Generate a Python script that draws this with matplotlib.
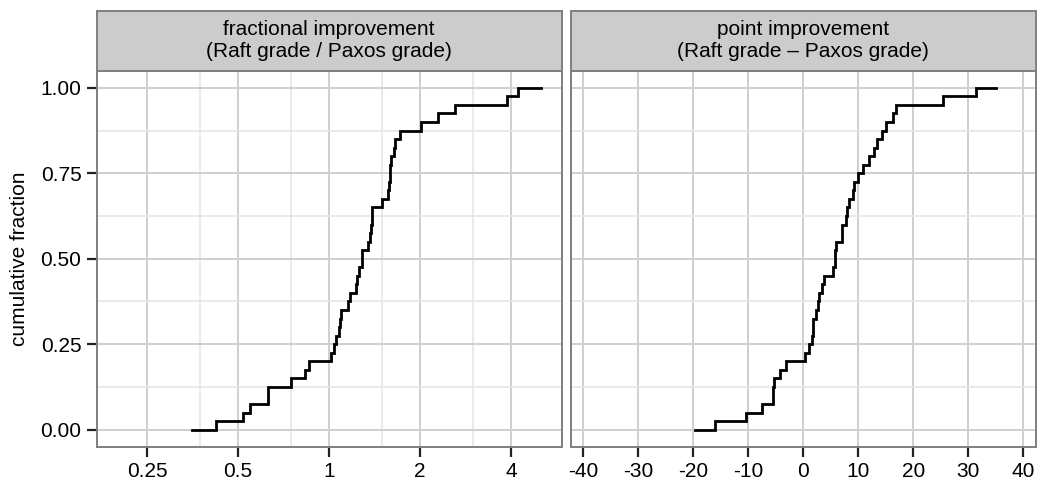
import numpy as np
import matplotlib
matplotlib.use("Agg")
import matplotlib.pyplot as plt
from matplotlib.ticker import FixedLocator, NullFormatter

plt.rcParams['font.family'] = ['Liberation Sans', 'DejaVu Sans']

# x value at which the ECDF reaches each 1/40 level (level 0 .. 40), plus where the line ends
frac_steps = [0.353, 0.423, 0.520, 0.548, 0.627, 0.627, 0.749, 0.835, 0.859, 1.019,
              1.035, 1.055, 1.075, 1.087, 1.096, 1.158, 1.173, 1.228, 1.240, 1.252,
              1.283, 1.283, 1.346, 1.367, 1.377, 1.388, 1.391, 1.494, 1.564, 1.579,
              1.591, 1.597, 1.603, 1.645, 1.653, 1.717, 2.011, 2.299, 2.617, 3.871,
              4.210]
frac_end = 5.03

point_steps = [-19.7, -16.05, -10.47, -7.56, -5.51, -5.51, -5.27, -4.24, -3.15, 0.35,
               1.0, 1.5, 1.82, 1.82, 2.31, 2.58, 2.91, 3.35, 3.67, 5.35,
               5.76, 5.76, 5.89, 6.95, 6.98, 7.76, 7.85, 8.36, 9.09, 9.13,
               10.0, 10.9, 11.95, 12.9, 13.35, 14.36, 14.98, 16.25, 16.85, 25.45,
               31.4]
point_end = 35.0

n_levels = 40
titles = ["fractional improvement\n(Raft grade / Paxos grade)",
          "point improvement\n(Raft grade \u2013 Paxos grade)"]
frac_ticks = [0.25, 0.5, 1, 2, 4]
frac_ticklabels = ["0.25", "0.5", "1", "2", "4"]
frac_minor = [0.375, 0.75, 1.5, 3]
point_ticks = [-40, -30, -20, -10, 0, 10, 20, 30, 40]
y_ticks = [0.0, 0.25, 0.5, 0.75, 1.0]
y_minor = [0.125, 0.375, 0.625, 0.875]

W, H = 1048, 491
fig = plt.figure(figsize=(W / 100, H / 100), dpi=100)

grid_major = '#cfcfcf'
grid_minor = '#e6e6e6'
border = '#7f7f7f'
strip_fill = '#cccccc'
fs = 15


def px_axes(x0, x1, y0, y1):
    return fig.add_axes([x0 / W, 1 - y1 / H, (x1 - x0) / W, (y1 - y0) / H])


panels = [(96.7, 561.7), (571.0, 1035.7)]
ax_l = px_axes(panels[0][0], panels[0][1], 70.7, 446.7)
ax_r = px_axes(panels[1][0], panels[1][1], 70.7, 446.7)

levels = list(np.arange(n_levels + 1) / n_levels)

for ax, steps, end in [(ax_l, frac_steps, frac_end), (ax_r, point_steps, point_end)]:
    ax.plot(steps + [end], levels + [1.0], drawstyle='steps-post', color='black',
            lw=2.0, zorder=3, solid_joinstyle='miter')
    ax.set_ylim(-0.05, 1.05)
    ax.set_facecolor('white')
    for s in ax.spines.values():
        s.set_color(border)
        s.set_linewidth(1.4)
    ax.yaxis.set_major_locator(FixedLocator(y_ticks))
    ax.yaxis.set_minor_locator(FixedLocator(y_minor))
    ax.grid(which='major', color=grid_major, lw=1.4, zorder=0)
    ax.grid(which='minor', color=grid_minor, lw=1.2, zorder=0)
    ax.set_axisbelow(True)
    ax.tick_params(which='major', length=7, width=1.6, color='#222222',
                   labelsize=fs, labelcolor='black', pad=4)
    ax.tick_params(which='minor', length=0)

ax_l.set_xscale('log', base=2)
ax_l.set_xlim(2 ** -2.553, 2 ** 2.557)
ax_l.xaxis.set_major_locator(FixedLocator(frac_ticks))
ax_l.xaxis.set_minor_locator(FixedLocator(frac_minor))
ax_l.set_xticklabels(frac_ticklabels)
ax_l.xaxis.set_minor_formatter(NullFormatter())
ax_l.set_yticklabels(["0.00", "0.25", "0.50", "0.75", "1.00"])
ax_l.set_ylabel("cumulative fraction", fontsize=fs, labelpad=8)

ax_r.set_xlim(-42.25, 42.25)
ax_r.xaxis.set_major_locator(FixedLocator(point_ticks))
ax_r.set_xticklabels([str(t) for t in point_ticks])
ax_r.tick_params(axis='y', left=False, labelleft=False)
ax_r.grid(which='minor', axis='x', visible=False)

for (x0, x1), title in zip(panels, titles):
    st = px_axes(x0, x1, 10.7, 70.7)
    st.set_facecolor(strip_fill)
    st.set_xticks([])
    st.set_yticks([])
    for s in st.spines.values():
        s.set_color(border)
        s.set_linewidth(1.4)
    st.text(0.5, 0.5, title, ha='center', va='center', fontsize=fs,
            linespacing=1.2, transform=st.transAxes)

fig.savefig("out.png", dpi=100)
